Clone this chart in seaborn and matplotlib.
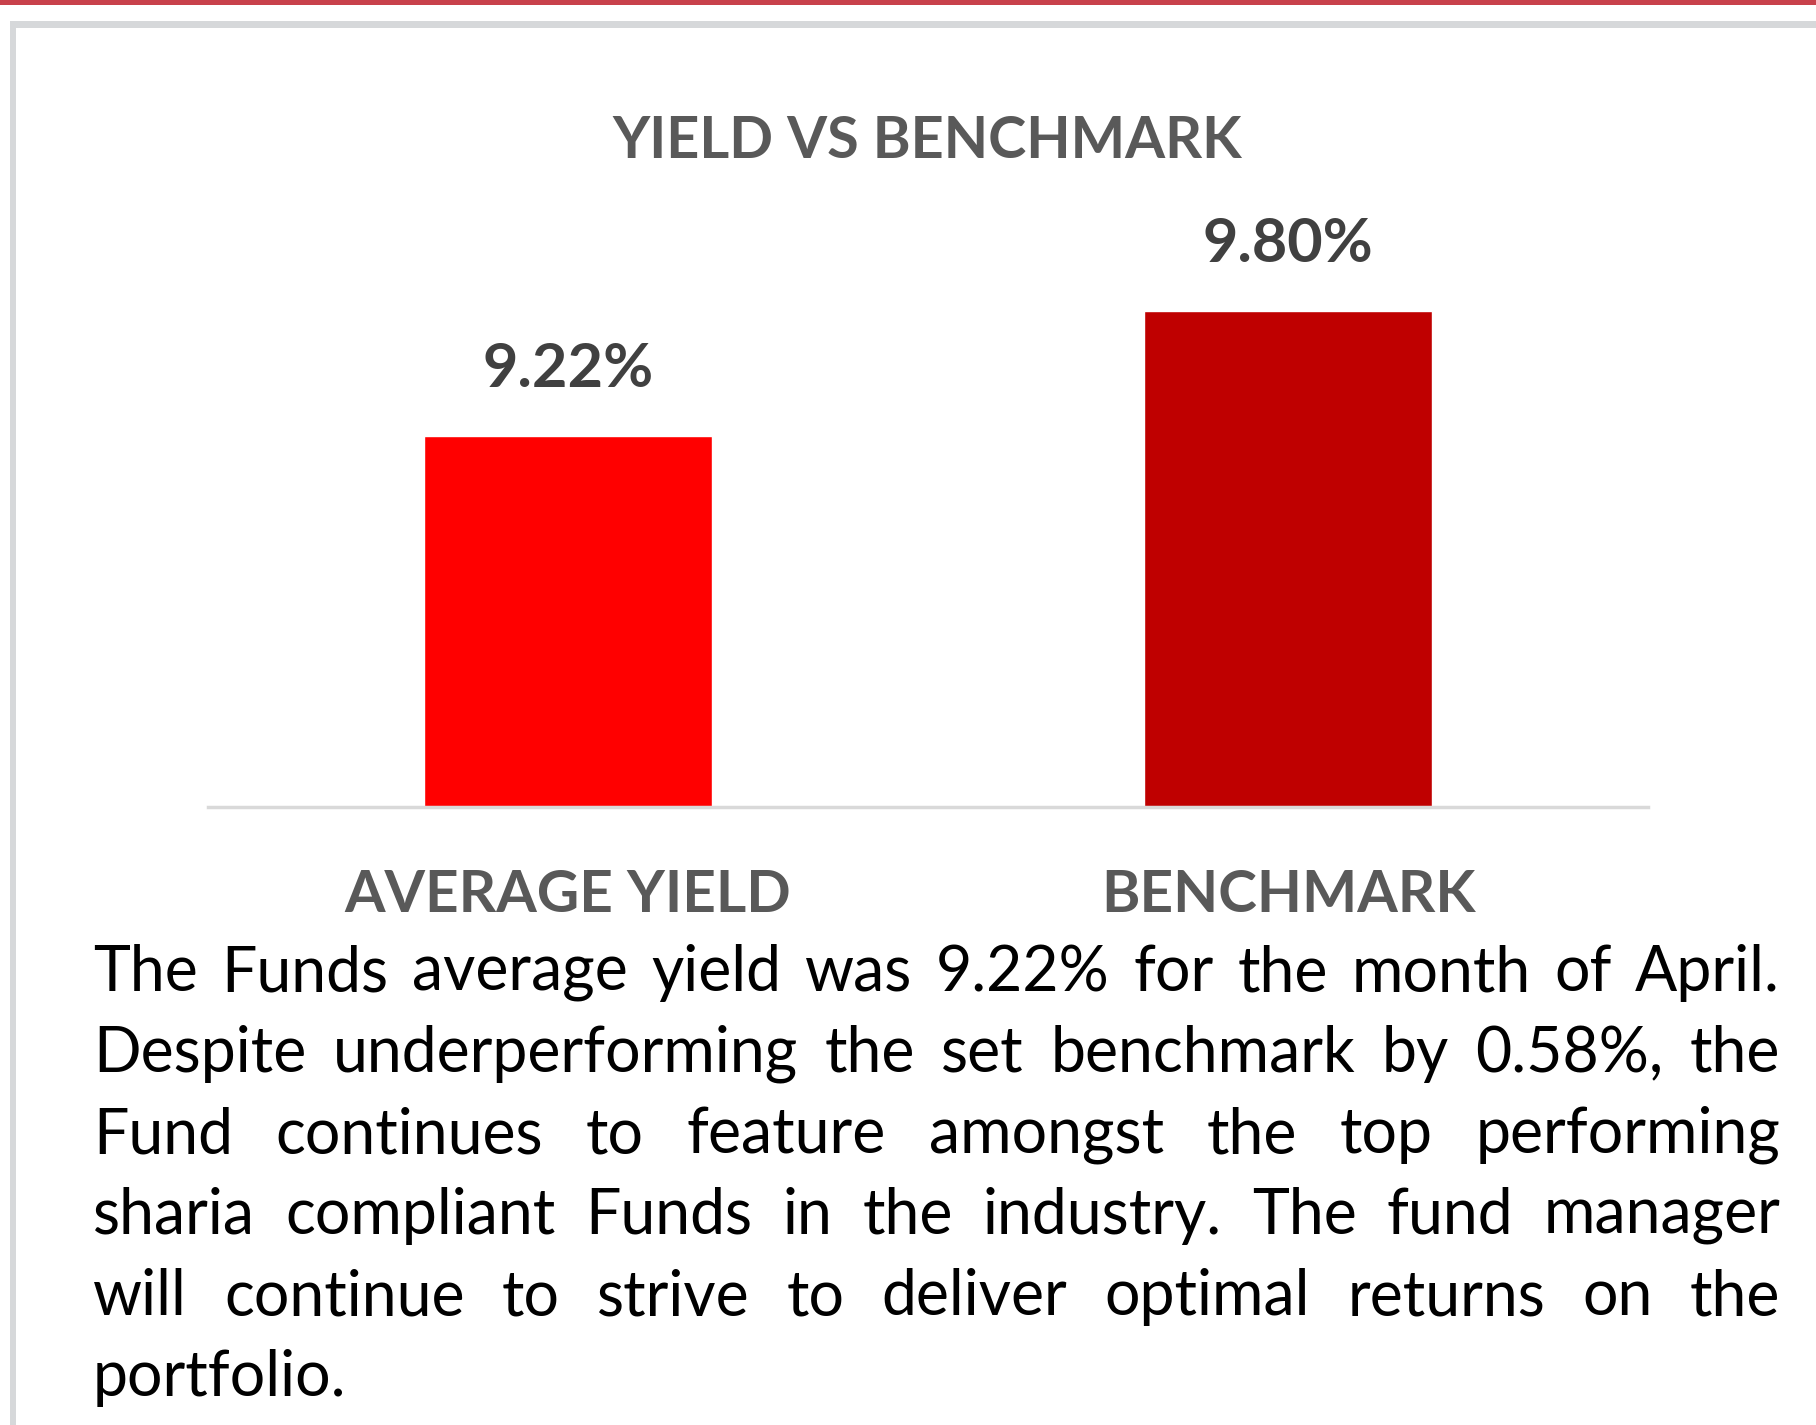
import matplotlib
matplotlib.use("Agg")
import matplotlib.pyplot as plt
import matplotlib.patches as mpatches
import seaborn as sns
import pandas as pd

# chart data
categories = ["AVERAGE YIELD", "BENCHMARK"]
values = [9.22, 9.80]
value_labels = ["9.22%", "9.80%"]
bar_colors = ["#FF0000", "#BF0000"]

title = "YIELD VS BENCHMARK"
paragraph_lines = [
    "The Funds average yield was 9.22% for the month of April.",
    "Despite underperforming the set benchmark by 0.58%, the",
    "Fund continues to feature amongst the top performing",
    "sharia compliant Funds in the industry. The fund manager",
    "will continue to strive to deliver optimal returns on the",
    "portfolio.",
]

W, H, DPI = 1816, 1425, 100

sns.set_theme(style="white")
plt.rcParams["font.family"] = ["Lato", "DejaVu Sans"]

fig = plt.figure(figsize=(W / DPI, H / DPI), dpi=DPI)
fig.patch.set_facecolor("white")

# frame decorations: red rule on top, light gray border
fig.patches.append(mpatches.Rectangle((0, 1 - 5 / H), 1, 5 / H, transform=fig.transFigure,
                                      facecolor="#C8414B", edgecolor="none"))
fig.patches.append(mpatches.Rectangle((10 / W, 1 - 28 / H), 1, 7 / H, transform=fig.transFigure,
                                      facecolor="#D6D8DA", edgecolor="none"))
fig.patches.append(mpatches.Rectangle((10 / W, 0), 6 / W, 1 - 21 / H, transform=fig.transFigure,
                                      facecolor="#D6D8DA", edgecolor="none"))

# plot area
ax_left, ax_right, ax_base, ax_top = 208, 1648, 807, 268
ax = fig.add_axes([ax_left / W, 1 - ax_base / H, (ax_right - ax_left) / W, (ax_base - ax_top) / H])

df = pd.DataFrame({"Category": categories, "Value": values})
sns.barplot(data=df, x="Category", y="Value", hue="Category", palette=bar_colors,
            width=0.4, saturation=1, legend=False, ax=ax)
ax.set_ylim(7.5, 10.0)
ax.set_xlim(-0.5, 1.5)

for container, lab in zip(ax.containers, value_labels):
    ax.bar_label(container, labels=[lab], padding=28, fontsize=44, fontweight="bold", color="#404040")

ax.set_xlabel("")
ax.set_ylabel("")
ax.set_yticks([])
ax.tick_params(axis="x", length=0, pad=45, labelsize=42, labelcolor="#595959")
for t in ax.get_xticklabels():
    t.set_fontweight("bold")
for s in ["left", "right", "top"]:
    ax.spines[s].set_visible(False)
ax.spines["bottom"].set_color("#D9D9D9")
ax.spines["bottom"].set_linewidth(2.5)
ax.set_facecolor("white")

fig.text(927 / W, 1 - 142 / H, title, ha="center", va="center", fontsize=41.5,
         fontweight="bold", color="#595959")

# justified paragraph
renderer = fig.canvas.get_renderer()
text_left, text_right = 93, 1780
first_y, line_step = 973, 81
for i, line in enumerate(paragraph_lines):
    words = line.split()
    y = 1 - (first_y + i * line_step) / H
    texts = [fig.text(0, y, w, ha="left", va="center", fontsize=45, color="black") for w in words]
    widths = [t.get_window_extent(renderer).width for t in texts]
    if i < len(paragraph_lines) - 1 and len(words) > 1:
        gap = (text_right - text_left - sum(widths)) / (len(words) - 1)
    else:
        gap = 12
    x = text_left
    for t, w in zip(texts, widths):
        t.set_x(x / W)
        x += w + gap

fig.savefig("out.png", dpi=DPI, facecolor="white")
